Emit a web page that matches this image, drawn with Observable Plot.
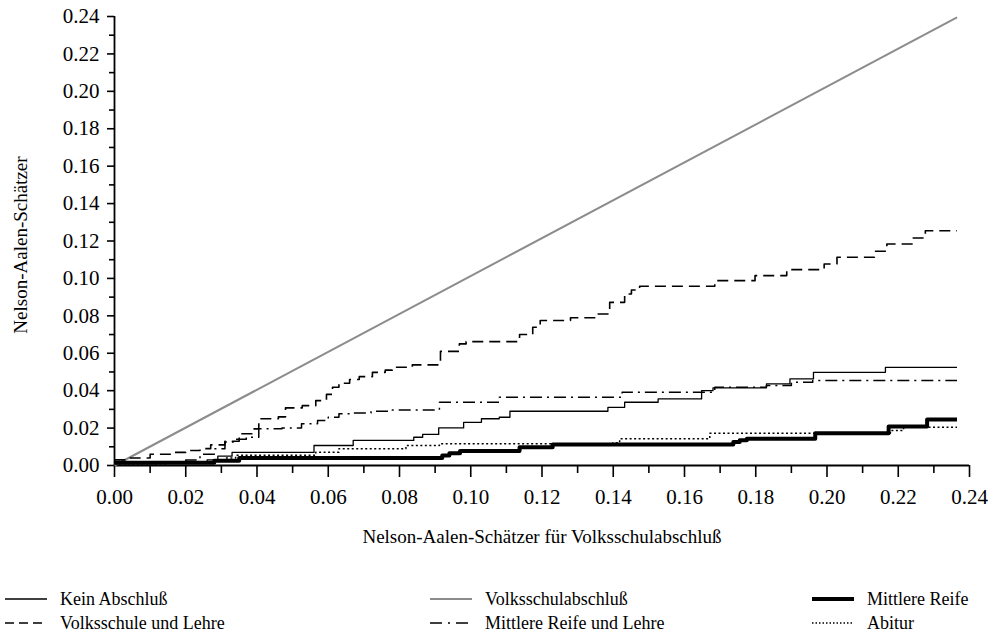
<!DOCTYPE html>
<html><head><meta charset="utf-8">
<script src="https://cdn.jsdelivr.net/npm/d3@7"></script>
<script src="https://cdn.jsdelivr.net/npm/@observablehq/plot@0.6"></script>
<style>
html,body{margin:0;padding:0;background:#fff;font-family:"Liberation Serif",serif;}
#wrap{position:relative;width:996px;height:640px;overflow:hidden;}
#legend{position:absolute;left:0;top:560px;width:996px;height:80px;}
.item{position:absolute;height:22px;display:flex;align-items:center;font-size:18px;color:#000;white-space:nowrap;}
.item svg{margin-right:13px;}
</style></head><body>
<div id="wrap"><div id="chart"></div><div id="legend"></div></div>
<script>
// Series names (legend order)
const seriesNames = ["Kein Abschluß", "Volksschulabschluß", "Mittlere Reife",
                     "Volksschule und Lehre", "Mittlere Reife und Lehre", "Abitur"];

// Axis ticks
const xTicks = [0, 0.02, 0.04, 0.06, 0.08, 0.10, 0.12, 0.14, 0.16, 0.18, 0.20, 0.22, 0.24];
const yTicks = [0, 0.02, 0.04, 0.06, 0.08, 0.10, 0.12, 0.14, 0.16, 0.18, 0.20, 0.22, 0.24];
const minorTicks = [0.01, 0.03, 0.05, 0.07, 0.09, 0.11, 0.13, 0.15, 0.17, 0.19, 0.21, 0.23];

// Kein Abschluß (step function)
const kein_x = [0, 0.012, 0.020, 0.026, 0.029, 0.033, 0.056, 0.067, 0.084, 0.0865, 0.091, 0.098, 0.103, 0.108, 0.111, 0.1385, 0.1432, 0.1526, 0.1648, 0.168, 0.183, 0.1896, 0.1962, 0.2164, 0.2365];
const kein_y = [0.001, 0.0015, 0.002, 0.003, 0.005, 0.007, 0.0107, 0.0134, 0.0151, 0.0166, 0.0201, 0.0231, 0.025, 0.0258, 0.029, 0.0311, 0.0338, 0.0356, 0.040, 0.0415, 0.0436, 0.0463, 0.0498, 0.0525, 0.0525];

// Volksschulabschluß (reference group plotted against itself)
const vsa_x = [0, 0.2365];
const vsa_y = [0, 0.2395];

// Mittlere Reife
const mr_x = [0, 0.028, 0.035, 0.092, 0.094, 0.097, 0.1137, 0.123, 0.1737, 0.1755, 0.1775, 0.1967, 0.2173, 0.2281, 0.2365];
const mr_y = [0.0015, 0.0025, 0.004, 0.0053, 0.0066, 0.0077, 0.0098, 0.0112, 0.0125, 0.0135, 0.0143, 0.0173, 0.0208, 0.0246, 0.0246];

// Volksschule und Lehre
const vul_x = [0, 0.004, 0.010, 0.016, 0.020, 0.024, 0.027, 0.031, 0.035, 0.0386, 0.0405, 0.046, 0.048, 0.0527, 0.0565, 0.0595, 0.0612, 0.063, 0.066, 0.0687, 0.0724, 0.076, 0.078, 0.0836, 0.0915, 0.0968, 0.0987, 0.1137, 0.1174, 0.1195, 0.128, 0.1355, 0.139, 0.1432, 0.1451, 0.1474, 0.1685, 0.1798, 0.1887, 0.1992, 0.2028, 0.2133, 0.2168, 0.2239, 0.2276, 0.2365];
const vul_y = [0.003, 0.004, 0.006, 0.007, 0.008, 0.009, 0.011, 0.013, 0.017, 0.0196, 0.025, 0.026, 0.0308, 0.032, 0.0347, 0.038, 0.0418, 0.044, 0.046, 0.0475, 0.0498, 0.051, 0.0525, 0.0538, 0.061, 0.065, 0.0662, 0.070, 0.0739, 0.0775, 0.079, 0.081, 0.0872, 0.0917, 0.0938, 0.0958, 0.0988, 0.1015, 0.1047, 0.1077, 0.1113, 0.1145, 0.1184, 0.1216, 0.1255, 0.1255];

// Mittlere Reife und Lehre
const mrul_x = [0, 0.020, 0.024, 0.028, 0.031, 0.034, 0.037, 0.0405, 0.047, 0.0525, 0.057, 0.060, 0.063, 0.067, 0.072, 0.078, 0.0912, 0.108, 0.1425, 0.1685, 0.183, 0.190, 0.196, 0.2365];
const mrul_y = [0.002, 0.003, 0.006, 0.009, 0.0125, 0.014, 0.0151, 0.0196, 0.020, 0.0223, 0.024, 0.0258, 0.0276, 0.028, 0.029, 0.0297, 0.0338, 0.0365, 0.0392, 0.0418, 0.0427, 0.0445, 0.0454, 0.0454];

// Abitur
const abi_x = [0, 0.015, 0.025, 0.028, 0.031, 0.034, 0.0565, 0.063, 0.0818, 0.0912, 0.1399, 0.1418, 0.1671, 0.2178, 0.2215, 0.2365];
const abi_y = [0.001, 0.0015, 0.002, 0.003, 0.004, 0.0055, 0.0071, 0.0089, 0.0107, 0.0116, 0.0121, 0.0143, 0.0173, 0.0187, 0.0205, 0.0205];

const styles = {
  "Kein Abschluß":            {stroke: "#000", strokeWidth: 1.3, dash: null, legendDash: null},
  "Volksschulabschluß":       {stroke: "#8c8c8c", strokeWidth: 2, dash: null, legendDash: null},
  "Mittlere Reife":           {stroke: "#000", strokeWidth: 4, dash: null, legendDash: null},
  "Volksschule und Lehre":    {stroke: "#000", strokeWidth: 1.6, dash: "11,6", legendDash: "9,5"},
  "Mittlere Reife und Lehre": {stroke: "#000", strokeWidth: 1.5, dash: "12,5,2,5", legendDash: "12,6,2,6"},
  "Abitur":                   {stroke: "#000", strokeWidth: 1.5, dash: "2,2.5", legendDash: "1.5,2"}
};

const toRows = (xs, ys) => xs.map((x, i) => ({x, y: ys[i]}));
const data = {
  "Kein Abschluß": toRows(kein_x, kein_y),
  "Volksschulabschluß": toRows(vsa_x, vsa_y),
  "Mittlere Reife": toRows(mr_x, mr_y),
  "Volksschule und Lehre": toRows(vul_x, vul_y),
  "Mittlere Reife und Lehre": toRows(mrul_x, mrul_y),
  "Abitur": toRows(abi_x, abi_y)
};

const drawOrder = ["Volksschulabschluß", "Volksschule und Lehre", "Mittlere Reife und Lehre", "Kein Abschluß", "Abitur", "Mittlere Reife"];
const lineMarks = drawOrder.map(name => {
  const s = styles[name];
  const opts = {x: "x", y: "y", curve: name === "Volksschulabschluß" ? "linear" : "step-after",
    stroke: s.stroke, strokeWidth: s.strokeWidth, strokeLinecap: "butt"};
  if (s.dash) opts.strokeDasharray = s.dash;
  return Plot.line(data[name], opts);
});

const fmt = d3.format(".2f");
const chart = Plot.plot({
  width: 996,
  height: 560,
  marginLeft: 114,
  marginRight: 27,
  marginTop: 16,
  marginBottom: 95,
  style: {fontFamily: "Liberation Serif, serif", fontSize: "21px", color: "#000", background: "#fff"},
  x: {domain: [0, 0.24]},
  y: {domain: [0, 0.24]},
  marks: [
    Plot.axisX(xTicks, {tickSize: 12, tickPadding: 12, tickFormat: fmt, strokeWidth: 1.6, fontSize: 21, label: null}),
    Plot.axisX(minorTicks, {tickSize: 8, tickFormat: () => "", strokeWidth: 1.6, label: null}),
    Plot.axisY(yTicks, {tickSize: 7, tickPadding: 8, tickFormat: fmt, strokeWidth: 1.6, fontSize: 21, label: null}),
    Plot.axisY(minorTicks, {tickSize: 5, tickFormat: () => "", strokeWidth: 1.6, label: null}),
    Plot.ruleY([0], {strokeWidth: 1.8}),
    Plot.ruleX([0], {strokeWidth: 1.8}),
    ...lineMarks,
    Plot.text(["Nelson-Aalen-Schätzer"], {frameAnchor: "left", textAnchor: "middle", rotate: -90, dx: -94, dy: 4, fontSize: 19}),
    Plot.text(["Nelson-Aalen-Schätzer für Volksschulabschluß"], {frameAnchor: "bottom", textAnchor: "middle", dy: 77, fontSize: 19})
  ]
});
document.getElementById("chart").appendChild(chart);

// Legend (HTML below the SVG)
const legendPos = {
  "Kein Abschluß":            {left: 5,   top: 28},
  "Volksschule und Lehre":    {left: 5,   top: 52},
  "Volksschulabschluß":       {left: 430, top: 28},
  "Mittlere Reife und Lehre": {left: 430, top: 52},
  "Mittlere Reife":           {left: 812, top: 28},
  "Abitur":                   {left: 812, top: 52}
};
const legend = d3.select("#legend");
seriesNames.forEach(name => {
  const s = styles[name];
  const p = legendPos[name];
  const item = legend.append("div").attr("class", "item").style("left", p.left + "px").style("top", p.top + "px");
  const sw = item.append("svg").attr("width", 42).attr("height", 10);
  sw.append("line").attr("x1", 0).attr("x2", 42).attr("y1", 5).attr("y2", 5)
    .attr("stroke", s.stroke).attr("stroke-width", s.strokeWidth)
    .attr("stroke-dasharray", s.legendDash);
  item.append("span").text(name);
});
</script>
</body></html>
